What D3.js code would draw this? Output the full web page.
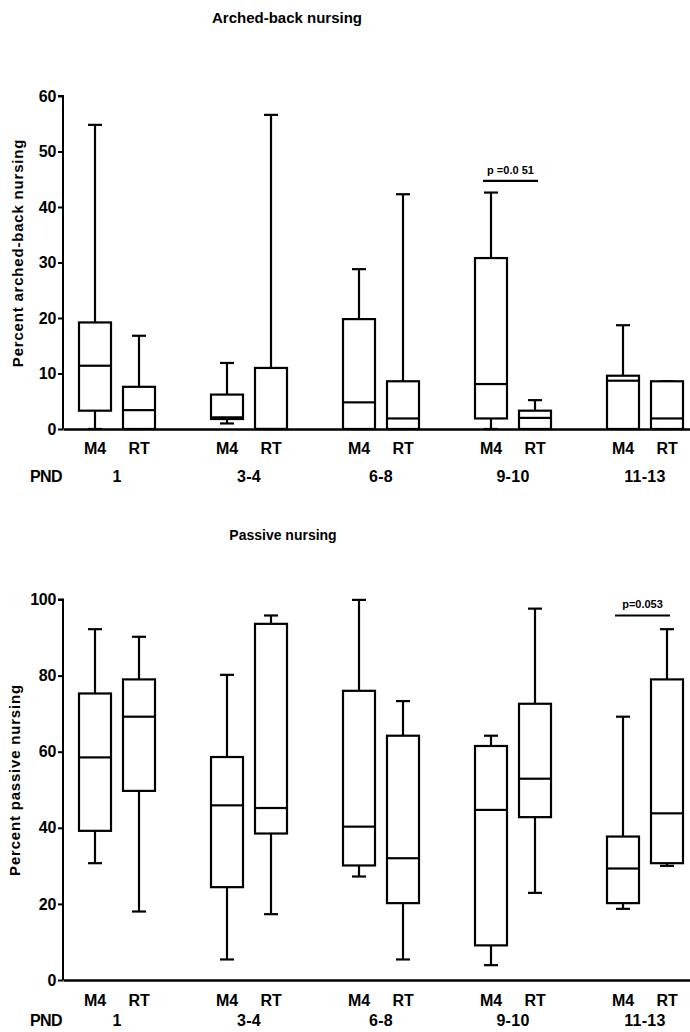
<!DOCTYPE html>
<html>
<head>
<meta charset="utf-8">
<script src="https://cdn.jsdelivr.net/npm/d3@7"></script>
<style>
  html, body { margin: 0; padding: 0; background: #fff; }
  svg { display: block; }
  text { font-family: "Liberation Sans", Arial, Helvetica, sans-serif; font-weight: bold; fill: #000; }
</style>
</head>
<body>
<svg id="chart" width="690" height="1032"></svg>
<script>
// ---- data ----
const groups = ["1", "3-4", "6-8", "9-10", "11-13"];
const series = ["M4", "RT"];
// each entry: [min, q1, median, q3, max]
const archedM4 = [[0, 3.3, 11.4, 19.2, 54.8], [1.0, 1.8, 2.1, 6.2, 11.9], [0, 0, 4.8, 19.8, 28.8], [0, 1.9, 8.1, 30.8, 42.6], [0, 0, 8.7, 9.6, 18.7]];
const archedRT = [[0, 0, 3.4, 7.6, 16.8], [0, 0, 0, 11.0, 56.6], [0, 0, 1.9, 8.6, 42.3], [0, 0, 2.0, 3.3, 5.2], [0, 0, 1.9, 8.6, 8.6]];
const passiveM4 = [[30.7, 39.2, 58.5, 75.3, 92.2], [5.4, 24.4, 45.9, 58.6, 80.2], [27.2, 30.1, 40.3, 76.0, 99.9], [3.9, 9.1, 44.7, 61.5, 64.2], [18.7, 20.2, 29.3, 37.7, 69.2]];
const passiveRT = [[18.0, 49.7, 69.2, 79.0, 90.2], [17.3, 38.5, 45.2, 93.6, 95.8], [5.4, 20.2, 32.0, 64.2, 73.3], [22.9, 42.8, 52.9, 72.6, 97.6], [30.0, 30.7, 43.8, 79.0, 92.2]];
const archedTicks = [0, 10, 20, 30, 40, 50, 60];
const passiveTicks = [0, 20, 40, 60, 80, 100];
const archedTitle = "Arched-back nursing";
const passiveTitle = "Passive nursing";
const archedYLabel = "Percent arched-back nursing";
const passiveYLabel = "Percent passive nursing";
const archedP = {group: "9-10", text: "p =0.0 51", value: 44.7};
const passiveP = {group: "11-13", text: "p=0.053", value: 95.8};

// ---- layout ----
const svg = d3.select("#chart");
const xAxisLeft = 63, xAxisRight = 690;
const xGroup = d3.scalePoint().domain(groups).range([117, 645]);
const xSub = d3.scalePoint().domain(series).range([-22, 22]);
const boxW = 32, capW = 14;

function drawPanel(cfg) {
  const g = svg.append("g");
  const y = d3.scaleLinear().domain([0, cfg.ticks[cfg.ticks.length - 1]]).range([cfg.y0, cfg.yTop]);

  // title
  g.append("text").attr("x", cfg.titleX).attr("y", cfg.titleY).attr("text-anchor", "middle")
    .style("font-size", cfg.titleSize + "px").text(cfg.title);

  // y axis
  const yAxis = d3.axisLeft(y).tickValues(cfg.ticks).tickSize(5).tickPadding(2).tickFormat(d3.format("d"));
  const ya = g.append("g").attr("transform", `translate(${xAxisLeft},0)`).call(yAxis);
  ya.select(".domain").attr("stroke", "#000").attr("stroke-width", 2).attr("d", `M-5,${cfg.yTop}H0V${cfg.y0}`);
  ya.selectAll(".tick line").attr("stroke", "#000").attr("stroke-width", 2);
  ya.selectAll(".tick text").style("font-size", "16px").style("font-family", '"Liberation Sans", Arial, sans-serif')
    .style("font-weight", "bold").attr("fill", "#000").attr("letter-spacing", "-0.3");

  // y label
  g.append("text").attr("transform", `translate(${cfg.yLabelX},${cfg.yLabelY}) rotate(-90)`)
    .attr("text-anchor", "middle").style("font-size", "15px").attr("letter-spacing", "0.8").text(cfg.yLabel);

  // x axis line
  const xl = d3.scaleLinear().domain([0, 1]).range([xAxisLeft, xAxisRight]);
  const xa = g.append("g").attr("transform", `translate(0,${y(0)})`).call(d3.axisBottom(xl).tickValues([]).tickSizeOuter(0));
  xa.select(".domain").attr("stroke", "#000").attr("stroke-width", 2.5);

  // boxes
  const items = [];
  groups.forEach((grp, i) => {
    items.push({grp, s: "M4", v: cfg.m4[i]});
    items.push({grp, s: "RT", v: cfg.rt[i]});
  });
  const bx = d => xGroup(d.grp) + xSub(d.s);
  const boxes = g.append("g").selectAll("g").data(items).join("g")
    .attr("stroke", "#000").attr("stroke-width", 2.2).attr("fill", "none");
  // whiskers
  boxes.append("line").attr("x1", bx).attr("x2", bx).attr("y1", d => y(d.v[4])).attr("y2", d => y(d.v[3]));
  boxes.append("line").attr("x1", bx).attr("x2", bx).attr("y1", d => y(d.v[1])).attr("y2", d => y(d.v[0]));
  // caps
  boxes.append("line").attr("x1", d => bx(d) - capW / 2).attr("x2", d => bx(d) + capW / 2)
    .attr("y1", d => y(d.v[4])).attr("y2", d => y(d.v[4]));
  boxes.append("line").attr("x1", d => bx(d) - capW / 2).attr("x2", d => bx(d) + capW / 2)
    .attr("y1", d => y(d.v[0])).attr("y2", d => y(d.v[0]));
  // box
  boxes.append("rect").attr("x", d => bx(d) - boxW / 2).attr("width", boxW)
    .attr("y", d => y(d.v[3])).attr("height", d => Math.max(0, y(d.v[1]) - y(d.v[3])))
    .attr("fill", "#fff");
  // median
  boxes.append("line").attr("x1", d => bx(d) - boxW / 2).attr("x2", d => bx(d) + boxW / 2)
    .attr("y1", d => y(d.v[2])).attr("y2", d => y(d.v[2]));

  // category labels
  g.append("g").selectAll("text").data(items).join("text")
    .attr("x", bx).attr("y", cfg.catY).attr("text-anchor", "middle")
    .style("font-size", "16px").attr("letter-spacing", "-0.2").text(d => d.s);
  g.append("text").attr("x", 30).attr("y", cfg.pndY).style("font-size", "16px")
    .attr("letter-spacing", "-0.6").text("PND");
  g.append("g").selectAll("text").data(groups).join("text")
    .attr("x", d => xGroup(d)).attr("y", cfg.pndY).attr("text-anchor", "middle")
    .style("font-size", "16px").attr("letter-spacing", "0.3").text(d => d);

  // p annotation
  const px = xGroup(cfg.p.group);
  const x1 = px + xSub("M4") - 8, x2 = px + xSub("RT") + 3;
  g.append("line").attr("x1", x1).attr("x2", x2).attr("y1", y(cfg.p.value)).attr("y2", y(cfg.p.value))
    .attr("stroke", "#000").attr("stroke-width", 2.2);
  g.append("text").attr("x", (x1 + x2) / 2).attr("y", y(cfg.p.value) - 7).attr("text-anchor", "middle")
    .style("font-size", "11px").text(cfg.p.text);
}

drawPanel({
  title: archedTitle, titleX: 287, titleY: 23, titleSize: 15,
  ticks: archedTicks, y0: 429, yTop: 96,
  yLabel: archedYLabel, yLabelX: 23, yLabelY: 253,
  m4: archedM4, rt: archedRT, catY: 454, pndY: 482, p: archedP
});
drawPanel({
  title: passiveTitle, titleX: 283, titleY: 540, titleSize: 14,
  ticks: passiveTicks, y0: 980, yTop: 599.5,
  yLabel: passiveYLabel, yLabelX: 20, yLabelY: 780,
  m4: passiveM4, rt: passiveRT, catY: 1006, pndY: 1026, p: passiveP
});
</script>
</body>
</html>
